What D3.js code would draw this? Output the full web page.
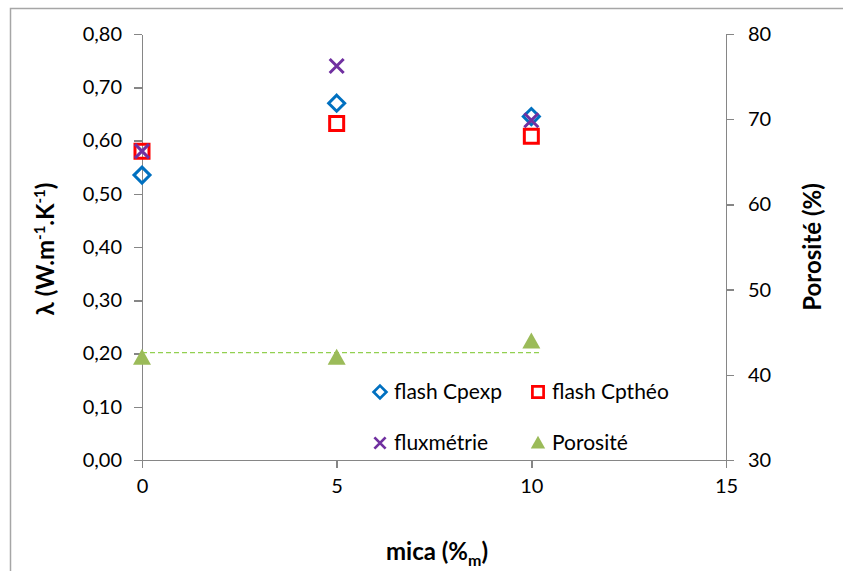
<!DOCTYPE html>
<html lang="fr">
<head>
	<meta charset="utf-8">
	<title>Conductivité et porosité - mica</title>
	<script src="https://cdn.jsdelivr.net/npm/d3@7/dist/d3.min.js"></script>
	<style type="text/css">
		body { margin: 0; background: #fff; }
		text { font-family: Lato, "Open Sans", sans-serif; fill: #000; }
		.axis path, .axis line { stroke: #868686; stroke-width: 1.5; shape-rendering: crispEdges; }
		.axis text { font-size: 20px; }
		.title { font-weight: bold; font-size: 24px; }
	</style>
</head>
<body>
<script type="text/javascript">

	var w = 843;
	var h = 571;

	// data
	var mica = [0, 5, 10];
	var flashCpexp = [0.535, 0.67, 0.645];
	var flashCptheo = [0.58, 0.632, 0.608];
	var fluxmetrie = [0.58, 0.74, 0.638];
	var porosite = [42.0, 42.0, 43.9];
	var porositeMoy = 42.6;          // dashed mean line
	var moyRange = [0, 10.25];

	var xTicks = [0, 5, 10, 15];
	var yTicks = [0, 0.1, 0.2, 0.3, 0.4, 0.5, 0.6, 0.7, 0.8];
	var y2Ticks = [30, 40, 50, 60, 70, 80];

	var xScale = d3.scaleLinear().domain([0, 15]).range([142, 726]);
	var yScale = d3.scaleLinear().domain([0, 0.8]).range([460, 34]);
	var y2Scale = d3.scaleLinear().domain([30, 80]).range([460, 34]);

	var svg = d3.select("body").append("svg")
		.attr("width", w)
		.attr("height", h);

	// chart border
	svg.append("rect")
		.attr("x", 10.5).attr("y", 8.5)
		.attr("width", w + 10).attr("height", h + 10)
		.attr("fill", "none")
		.attr("stroke", "#a6a6a6")
		.attr("stroke-width", 1.5);

	var fmt = function(d) { return d3.format(".2f")(d).replace(".", ","); };

	//Axes
	svg.append("g")
		.attr("class", "axis")
		.attr("transform", "translate(0," + yScale(0) + ")")
		.call(d3.axisBottom(xScale).tickValues(xTicks).tickSize(8).tickPadding(11).tickSizeOuter(0));

	svg.append("g")
		.attr("class", "axis")
		.attr("transform", "translate(" + xScale(0) + ",0)")
		.call(d3.axisLeft(yScale).tickValues(yTicks).tickFormat(fmt).tickSize(8).tickPadding(12).tickSizeOuter(0));

	svg.append("g")
		.attr("class", "axis")
		.attr("transform", "translate(" + xScale(15) + ",0)")
		.call(d3.axisRight(y2Scale).tickValues(y2Ticks).tickSize(8).tickPadding(14).tickSizeOuter(0));

	svg.selectAll(".axis text").attr("fill", "#000");

	//Axis titles
	svg.append("text")
		.attr("class", "title")
		.attr("text-anchor", "middle")
		.attr("x", 437).attr("y", 560)
		.call(function(t) {
			t.append("tspan").text("mica (%");
			t.append("tspan").attr("font-size", "16px").attr("dy", 6).text("m");
			t.append("tspan").attr("dy", -6).text(")");
		});

	svg.append("text")
		.attr("class", "title")
		.attr("text-anchor", "middle")
		.attr("transform", "translate(54,249) rotate(-90)")
		.call(function(t) {
			t.append("tspan").text("λ (W.m");
			t.append("tspan").attr("font-size", "15px").attr("dy", -9).text("-1");
			t.append("tspan").attr("dy", 9).text(".K");
			t.append("tspan").attr("font-size", "15px").attr("dy", -9).text("-1");
			t.append("tspan").attr("dy", 9).text(")");
		});

	svg.append("text")
		.attr("class", "title")
		.attr("text-anchor", "middle")
		.attr("transform", "translate(821,247) rotate(-90)")
		.text("Porosité (%)");

	//Mean porosity line
	svg.append("line")
		.attr("x1", xScale(moyRange[0])).attr("x2", xScale(moyRange[1]))
		.attr("y1", y2Scale(porositeMoy)).attr("y2", y2Scale(porositeMoy))
		.attr("stroke", "#92D050")
		.attr("stroke-width", 1.3)
		.attr("stroke-dasharray", "5,3");

	//Marker drawing
	var symbols = {
		diamond: { path: "M0,-8L8,0L0,8L-8,0Z", fill: "none", stroke: "#0070C0" },
		square: { path: "M-7,-7H7V7H-7Z", fill: "none", stroke: "#FF0000" },
		cross: { path: "M-7,-7L7,7M7,-7L-7,7", fill: "none", stroke: "#7030A0" },
		triangle: { path: "M0,-9L9,7H-9Z", fill: "#9BBB59", stroke: "none" }
	};

	function drawSeries(values, scale, sym) {
		var s = symbols[sym];
		svg.append("g").selectAll("path")
			.data(values)
			.enter()
			.append("path")
			.attr("transform", function(d, i) {
				return "translate(" + xScale(mica[i]) + "," + scale(d) + ")";
			})
			.attr("d", s.path)
			.attr("fill", s.fill)
			.attr("stroke", s.stroke)
			.attr("stroke-width", 3);
	}

	drawSeries(porosite, y2Scale, "triangle");
	drawSeries(flashCpexp, yScale, "diamond");
	drawSeries(flashCptheo, yScale, "square");
	drawSeries(fluxmetrie, yScale, "cross");

	//Legend
	var legend = [
		{ name: "flash Cpexp", sym: "diamond", x: 380, y: 392 },
		{ name: "flash Cpthéo", sym: "square", x: 538, y: 392 },
		{ name: "fluxmétrie", sym: "cross", x: 380, y: 443 },
		{ name: "Porosité", sym: "triangle", x: 538, y: 443 }
	];

	var lg = svg.append("g").selectAll("g")
		.data(legend)
		.enter()
		.append("g")
		.attr("transform", function(d) { return "translate(" + d.x + "," + d.y + ")"; });

	lg.append("path")
		.attr("d", function(d) { return symbols[d.sym].path; })
		.attr("transform", "scale(0.8)")
		.attr("fill", function(d) { return symbols[d.sym].fill; })
		.attr("stroke", function(d) { return symbols[d.sym].stroke; })
		.attr("stroke-width", 3.4);

	lg.append("text")
		.attr("x", 14)
		.attr("y", 7)
		.attr("font-size", "21px")
		.text(function(d) { return d.name; });

</script>
</body>
</html>
